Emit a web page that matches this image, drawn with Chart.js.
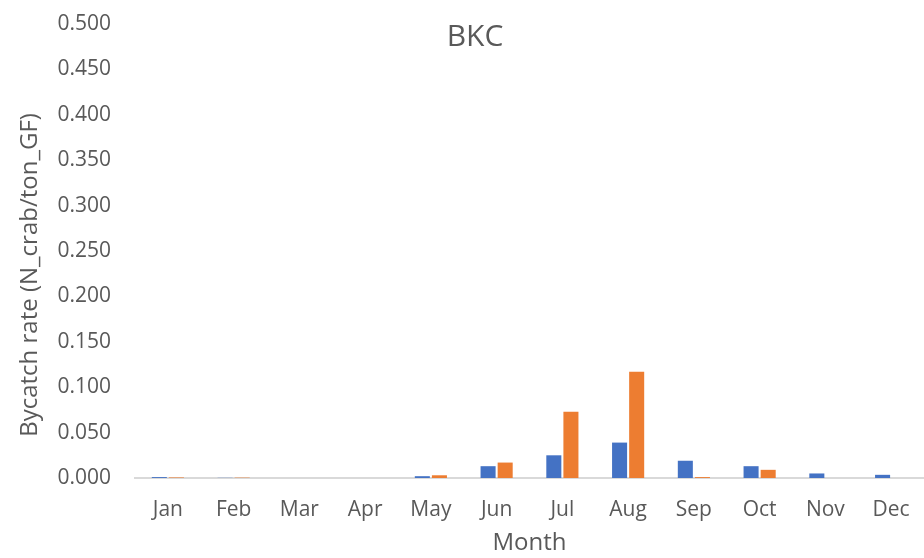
<!DOCTYPE html>
<html>
<head>
<meta charset="utf-8">
<script src="https://cdn.jsdelivr.net/npm/chart.js@4.4.1/dist/chart.umd.min.js"></script>
<style>
  html, body { margin: 0; padding: 0; background: #fff; }
  #wrap { width: 924px; height: 558px; }
</style>
</head>
<body>
<div id="wrap"><canvas id="chart" width="924" height="558"></canvas></div>
<script>
const months = ["Jan", "Feb", "Mar", "Apr", "May", "Jun", "Jul", "Aug", "Sep", "Oct", "Nov", "Dec"];

// two series
const seriesBlue = [0.001, 0.0002, 0, 0, 0.002, 0.013, 0.025, 0.039, 0.019, 0.013, 0.005, 0.0035];
const seriesOrange = [0.0006, 0.0004, 0, 0, 0.003, 0.017, 0.073, 0.117, 0.001, 0.009, 0, 0];

const chartTitle = "BKC";
const yTitle = "Bycatch rate (N_crab/ton_GF)";
const xTitle = "Month";

const textColor = "#595959";
const fontName = "'Open Sans', 'Liberation Sans', sans-serif";

// title sits over the plot area and the y title is off-centre, so draw both by hand
const titlePlugin = {
  id: "bkcTitle",
  afterDraw(chart) {
    const ctx = chart.ctx;
    ctx.save();
    ctx.fillStyle = textColor;
    ctx.font = "30px " + fontName;
    ctx.textAlign = "center";
    ctx.textBaseline = "middle";
    ctx.fillText(chartTitle, 475, 37);

    ctx.translate(30, 275);
    ctx.rotate(-Math.PI / 2);
    ctx.font = "24px " + fontName;
    ctx.fillText(yTitle, 0, 0);
    ctx.restore();
  },
};

const ctx = document.getElementById("chart").getContext("2d");

new Chart(ctx, {
  type: "bar",
  data: {
    labels: months,
    datasets: [
      {
        data: seriesBlue,
        backgroundColor: "#4472C4",
        categoryPercentage: 0.52,
        barPercentage: 0.88,
      },
      {
        data: seriesOrange,
        backgroundColor: "#ED7D31",
        categoryPercentage: 0.52,
        barPercentage: 0.88,
      },
    ],
  },
  options: {
    responsive: false,
    animation: false,
    layout: { padding: { top: 24, right: 0, left: 0, bottom: 0 } },
    plugins: {
      legend: { display: false },
      tooltip: { enabled: false },
    },
    scales: {
      x: {
        grid: { display: false },
        border: { display: true, color: "#d9d9d9", width: 2 },
        ticks: {
          color: textColor,
          font: { family: fontName, size: 21 },
          padding: 11,
          maxRotation: 0,
        },
        title: {
          display: true,
          text: xTitle,
          color: textColor,
          font: { family: fontName, size: 24 },
          padding: { top: 4, bottom: 0 },
        },
        afterFit(axis) {
          axis.height = 80;
        },
      },
      y: {
        min: 0,
        max: 0.5,
        grid: { display: false },
        border: { display: false },
        ticks: {
          stepSize: 0.05,
          color: textColor,
          font: { family: fontName, size: 21 },
          padding: 16,
          callback: (v) => v.toFixed(3),
        },
        title: { display: false },
        afterFit(axis) {
          axis.width = 135;
          // let the top tick label hang above the plot, as in the original
          axis.paddingTop = 0;
          axis.paddingBottom = 0;
        },
      },
    },
  },
  plugins: [titlePlugin],
});
</script>
</body>
</html>
